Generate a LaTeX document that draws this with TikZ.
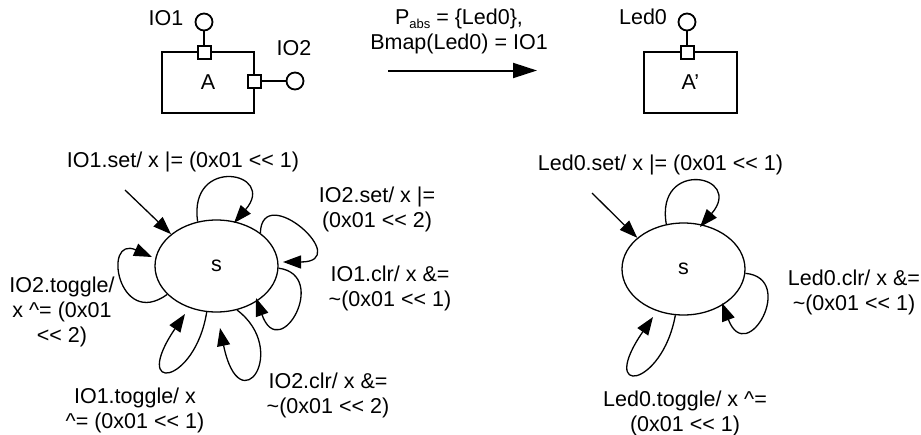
\documentclass[tikz,border=0pt]{standalone}
\usepackage{fontspec}
\setmainfont{Liberation Sans}
\usetikzlibrary{arrows.meta,shapes.geometric}
\begin{document}
\begin{tikzpicture}[x=1pt,y=-1pt,
  every node/.style={font=\fontsize{21.5}{25}\selectfont, inner sep=0pt},
  lbl/.style={align=center},
  port/.style={draw, line width=2pt, fill=white, minimum size=13pt, inner sep=0pt},
  pin/.style={draw, circle, line width=1.8pt, minimum size=17pt, inner sep=0pt},
  comp/.style={draw, line width=2pt, minimum width=92pt, minimum height=61pt, inner sep=0pt},
  state/.style={draw, ellipse, line width=1.3pt, minimum width=123pt, minimum height=92pt, inner sep=0pt},
  loopedge/.style={line width=1.3pt, -{Triangle[length=18pt,width=13pt]}},
  wire/.style={line width=2pt},
]
\useasboundingbox (0,0) rectangle (921,434);

% ---------- top: components ----------
\node[comp] (boxA) at (208,82.5) {A};
\node[port] (p1) at (204,52) {};
\node[port] (p2) at (254,81) {};
\node[pin] (c1) at (204,22) {};
\node[pin] (c2) at (295,81) {};
\draw[wire] (c1) -- (p1);
\draw[wire] (p2) -- (c2);
\node (nIO1) at (166,18) {IO1};
\node (nIO2) at (294,48) {IO2};

\node[comp, minimum width=93pt] (boxB) at (690.5,82.5) {A’};
\node[port] (p3) at (687,52) {};
\node[pin] (c3) at (687,22) {};
\draw[wire] (c3) -- (p3);
\node (nLed) at (643,17) {Led0};

\coordinate (arS) at (388,70.5);
\coordinate (arE) at (537,70.5);
\draw[wire, -{Triangle[length=24pt,width=15pt]}] (arS) -- (arE);
\node[lbl] (map) at (459,31) {P\raisebox{-4pt}{\fontsize{13}{13}\selectfont abs} = \{Led0\},\\Bmap(Led0) = IO1};

% ---------- left state machine ----------
\node[state] (sL) at (216.5,266) {s};
\coordinate (t1) at (234,223);
\coordinate (t2) at (283,262);
\coordinate (t3) at (256,298);
\coordinate (t4) at (220,328);
\coordinate (t5) at (185,314);
\coordinate (t6) at (152,257);
\coordinate (iL) at (125,190);
\draw[loopedge] (iL) -- (sL.145);
\draw[loopedge] (sL.113) .. controls (188,155) and (278,172) .. (t1);
\draw[loopedge] (sL.37) .. controls (262,180) and (355,262) .. (t2);
\draw[loopedge] (sL.-2) .. controls (330,275) and (280,365) .. (t3);
\draw[loopedge] (sL.-65) .. controls (290,350) and (240,425) .. (t4);
\draw[loopedge] (sL.-102) .. controls (195,385) and (130,395) .. (t5);
\draw[loopedge] (sL.-150) .. controls (118,330) and (102,235) .. (t6);

\node (l1) at (183,162) {IO1.set/ x |= (0x01 <{}< 1)};
\node[lbl] (l2) at (377,209) {IO2.set/ x |=\\(0x01 <{}< 2)};
\node[lbl] (l3) at (390,288) {IO1.clr/ x \&=\\\textasciitilde(0x01 <{}< 1)};
\node[lbl] (l4) at (328,395) {IO2.clr/ x \&=\\\textasciitilde(0x01 <{}< 2)};
\node[lbl] (l5) at (135,410) {IO1.toggle/ x\\\textasciicircum= (0x01 <{}< 1)};
\node[lbl] (l6) at (62,312) {IO2.toggle/\\x \textasciicircum= (0x01\\<{}< 2)};

% ---------- right state machine ----------
\node[state] (sR) at (683.5,269) {s};
\coordinate (t7) at (700,227);
\coordinate (t8) at (722,303);
\coordinate (t9) at (653,317);
\coordinate (iR) at (592,193);
\draw[loopedge] (iR) -- (sR.146);
\draw[loopedge] (sR.111) .. controls (655,158) and (745,175) .. (t7);
\draw[loopedge] (sR.-4) .. controls (797,278) and (747,368) .. (t8);
\draw[loopedge] (sR.-100) .. controls (662,388) and (597,398) .. (t9);

\node (r1) at (660.5,165) {Led0.set/ x |= (0x01 <{}< 1)};
\node[lbl] (r2) at (854,292.5) {Led0.clr/ x \&=\\\textasciitilde(0x01 <{}< 1)};
\node[lbl] (r3) at (685,413) {Led0.toggle/ x \textasciicircum=\\(0x01 <{}< 1)};
\end{tikzpicture}
\end{document}
